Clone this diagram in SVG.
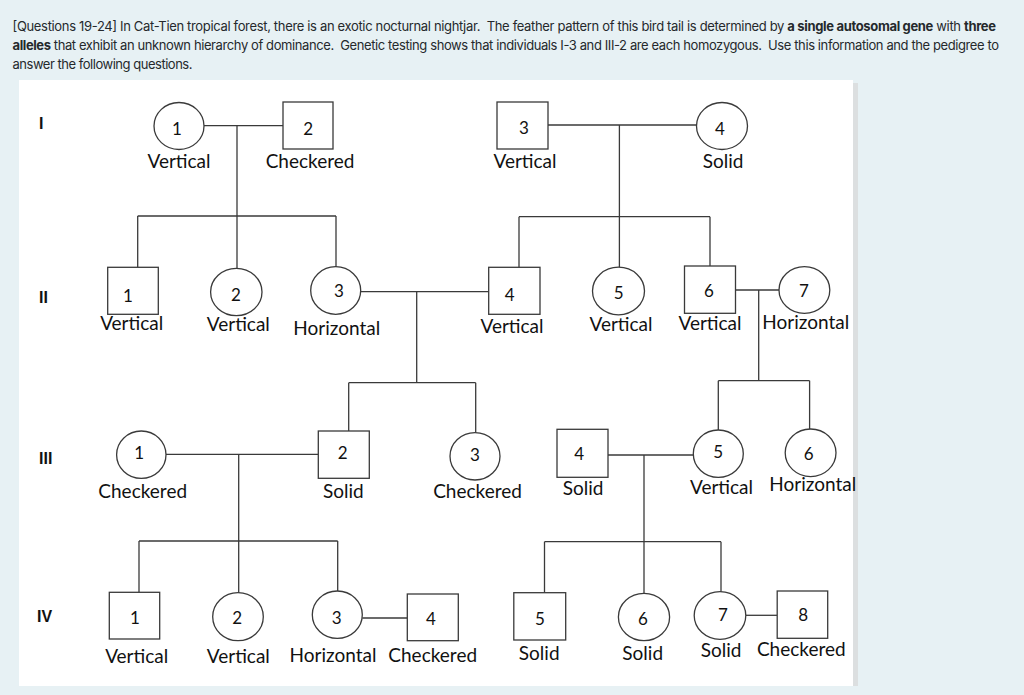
<svg xmlns="http://www.w3.org/2000/svg" width="1024" height="695" viewBox="0 0 1024 695">
<style>
.hdr{font-family:Inter,"Noto Sans","Liberation Sans",sans-serif;font-size:13px;fill:#25292c;white-space:pre}
.b{font-weight:bold}
.gen{font-family:"Liberation Sans",Arial,sans-serif;font-weight:bold;font-size:16px;fill:#111}
.sh{fill:#fff;stroke:#3a3a3a;stroke-width:1.3}
.num{font-family:Lato,"Open Sans",sans-serif;font-size:17px;fill:#111;text-anchor:middle}
.lab{font-family:Lato,"Open Sans",sans-serif;font-size:19px;fill:#111;text-anchor:middle}
#connectors line{stroke:#3a3a3a;stroke-width:1.3;fill:none}
</style>
<rect x="0" y="0" width="1024" height="695" fill="#e7f1f4"/>
<rect x="19" y="80" width="834" height="606" fill="#ffffff"/>
<rect x="853" y="83" width="5" height="603" fill="#dcdfe0"/>
<g id="header">
<text class="hdr" x="12.5" y="31" textLength="983.5" lengthAdjust="spacing">[Questions 19-24] In Cat-Tien tropical forest, there is an exotic nocturnal nightjar.  The feather pattern of this bird tail is determined by <tspan class="b">a single autosomal gene</tspan> with <tspan class="b">three</tspan></text>
<text class="hdr" x="12.5" y="50" textLength="986.5" lengthAdjust="spacing"><tspan class="b">alleles</tspan> that exhibit an unknown hierarchy of dominance.  Genetic testing shows that individuals I-3 and III-2 are each homozygous.  Use this information and the pedigree to</text>
<text class="hdr" x="12.5" y="69" textLength="180" lengthAdjust="spacing">answer the following questions.</text>
</g>
<g id="generations">
<text class="gen" x="39" y="129">I</text>
<text class="gen" x="39" y="303">II</text>
<text class="gen" x="39" y="464">III</text>
<text class="gen" x="37" y="621.5">IV</text>
</g>
<g id="connectors">
<line x1="204" y1="125.7" x2="283" y2="125.7"/>
<line x1="237" y1="125.7" x2="237" y2="216"/>
<line x1="137.7" y1="216" x2="336" y2="216"/>
<line x1="137.7" y1="216" x2="137.7" y2="267.3"/>
<line x1="237" y1="216" x2="237" y2="268.3"/>
<line x1="336" y1="216" x2="336" y2="266.7"/>
<line x1="548" y1="125" x2="696.5" y2="125"/>
<line x1="619.4" y1="125" x2="619.4" y2="216.7"/>
<line x1="519" y1="216.7" x2="710" y2="216.7"/>
<line x1="519" y1="216.7" x2="519" y2="267.3"/>
<line x1="619.4" y1="216.7" x2="619.4" y2="267.3"/>
<line x1="710" y1="216.7" x2="710" y2="266"/>
<line x1="360.7" y1="291.7" x2="488.7" y2="291.7"/>
<line x1="416.7" y1="291.7" x2="416.7" y2="382.7"/>
<line x1="348.7" y1="382.7" x2="475.7" y2="382.7"/>
<line x1="348.7" y1="382.7" x2="348.7" y2="431"/>
<line x1="475.7" y1="382.7" x2="475.7" y2="432.7"/>
<line x1="735.5" y1="290" x2="779" y2="290"/>
<line x1="758.7" y1="290" x2="758.7" y2="380.7"/>
<line x1="718.3" y1="380.7" x2="809.6" y2="380.7"/>
<line x1="718.3" y1="380.7" x2="718.3" y2="430"/>
<line x1="809.6" y1="380.7" x2="809.6" y2="429"/>
<line x1="166" y1="454.3" x2="318.3" y2="454.3"/>
<line x1="238.7" y1="454.3" x2="238.7" y2="592.7"/>
<line x1="139" y1="541" x2="337.7" y2="541"/>
<line x1="139" y1="541" x2="139" y2="592.3"/>
<line x1="337.7" y1="541" x2="337.7" y2="591"/>
<line x1="608" y1="455" x2="693.3" y2="455"/>
<line x1="644" y1="455" x2="644" y2="593.3"/>
<line x1="544.5" y1="541.7" x2="721" y2="541.7"/>
<line x1="544.5" y1="541.7" x2="544.5" y2="592.7"/>
<line x1="721" y1="541.7" x2="721" y2="591.7"/>
<line x1="362.3" y1="618" x2="407.3" y2="618"/>
<line x1="746" y1="615.3" x2="777.2" y2="615.3"/>
</g>
<g id="I-1"><ellipse class="sh" cx="179" cy="126" rx="25" ry="23.5"/><text class="num" x="177" y="135">1</text><text class="lab" x="179" y="167.7">Vertical</text></g>
<g id="I-2"><rect class="sh" x="283" y="102" width="50" height="47"/><text class="num" x="308.3" y="135">2</text><text class="lab" x="310" y="167.7">Checkered</text></g>
<g id="I-3"><rect class="sh" x="497" y="102" width="51" height="47"/><text class="num" x="524" y="133.5">3</text><text class="lab" x="525" y="168.3">Vertical</text></g>
<g id="I-4"><ellipse class="sh" cx="722" cy="126" rx="25.5" ry="23.5"/><text class="num" x="720" y="135">4</text><text class="lab" x="723" y="168">Solid</text></g>
<g id="II-1"><rect class="sh" x="107.7" y="267.3" width="50.6" height="47"/><text class="num" x="128" y="301.5">1</text><text class="lab" x="131.7" y="330">Vertical</text></g>
<g id="II-2"><ellipse class="sh" cx="236.3" cy="292" rx="25.7" ry="23.7"/><text class="num" x="236" y="301">2</text><text class="lab" x="238.3" y="330.7">Vertical</text></g>
<g id="II-3"><ellipse class="sh" cx="335.7" cy="290.5" rx="25" ry="23.8"/><text class="num" x="339" y="296.7">3</text><text class="lab" x="336.7" y="335">Horizontal</text></g>
<g id="II-4"><rect class="sh" x="488.7" y="267.3" width="51.3" height="47"/><text class="num" x="509.6" y="300.7">4</text><text class="lab" x="512" y="332.7">Vertical</text></g>
<g id="II-5"><ellipse class="sh" cx="618.5" cy="291" rx="26" ry="23.8"/><text class="num" x="618.7" y="299.3">5</text><text class="lab" x="621" y="331">Vertical</text></g>
<g id="II-6"><rect class="sh" x="684.5" y="266" width="51" height="47.3"/><text class="num" x="709" y="296.7">6</text><text class="lab" x="710" y="330">Vertical</text></g>
<g id="II-7"><ellipse class="sh" cx="804.4" cy="290" rx="25.4" ry="23.3"/><text class="num" x="804" y="296.7">7</text><text class="lab" x="805.8" y="329.3">Horizontal</text></g>
<g id="III-1"><ellipse class="sh" cx="141.3" cy="454.7" rx="24.7" ry="23.7"/><text class="num" x="139.3" y="459.3">1</text><text class="lab" x="142.7" y="497.7">Checkered</text></g>
<g id="III-2"><rect class="sh" x="318.3" y="431" width="51" height="47.3"/><text class="num" x="342.7" y="459.3">2</text><text class="lab" x="343.3" y="498.3">Solid</text></g>
<g id="III-3"><ellipse class="sh" cx="475" cy="456.3" rx="25" ry="23.7"/><text class="num" x="475" y="461">3</text><text class="lab" x="477.5" y="498">Checkered</text></g>
<g id="III-4"><rect class="sh" x="557" y="429.3" width="51" height="48"/><text class="num" x="579.3" y="460">4</text><text class="lab" x="583" y="495">Solid</text></g>
<g id="III-5"><ellipse class="sh" cx="718.3" cy="453.7" rx="25" ry="23.7"/><text class="num" x="718.3" y="458.3">5</text><text class="lab" x="721.5" y="494">Vertical</text></g>
<g id="III-6"><ellipse class="sh" cx="810.6" cy="452.8" rx="25.4" ry="23.8"/><text class="num" x="808.6" y="460">6</text><text class="lab" x="812.8" y="490.7">Horizontal</text></g>
<g id="IV-1"><rect class="sh" x="109.3" y="592.3" width="50.4" height="46.7"/><text class="num" x="135" y="624">1</text><text class="lab" x="136.7" y="662.7">Vertical</text></g>
<g id="IV-2"><ellipse class="sh" cx="238" cy="616.7" rx="25.3" ry="24"/><text class="num" x="237.3" y="624">2</text><text class="lab" x="238.3" y="663.3">Vertical</text></g>
<g id="IV-3"><ellipse class="sh" cx="337.3" cy="614.7" rx="25" ry="23.7"/><text class="num" x="336.7" y="624">3</text><text class="lab" x="333" y="661.7">Horizontal</text></g>
<g id="IV-4"><rect class="sh" x="407.3" y="594" width="51" height="46.7"/><text class="num" x="431" y="625">4</text><text class="lab" x="432.7" y="661.7">Checkered</text></g>
<g id="IV-5"><rect class="sh" x="513.8" y="592.7" width="51.9" height="47.3"/><text class="num" x="540" y="624.5">5</text><text class="lab" x="539.2" y="660">Solid</text></g>
<g id="IV-6"><ellipse class="sh" cx="644" cy="617" rx="25.6" ry="23.7"/><text class="num" x="643" y="624.5">6</text><text class="lab" x="642.7" y="660">Solid</text></g>
<g id="IV-7"><ellipse class="sh" cx="720" cy="615.5" rx="25.8" ry="23.8"/><text class="num" x="722.9" y="620.5">7</text><text class="lab" x="721" y="657.3">Solid</text></g>
<g id="IV-8"><rect class="sh" x="777.2" y="591" width="50.5" height="47.3"/><text class="num" x="803.3" y="620.5">8</text><text class="lab" x="801.3" y="656">Checkered</text></g>
</svg>
